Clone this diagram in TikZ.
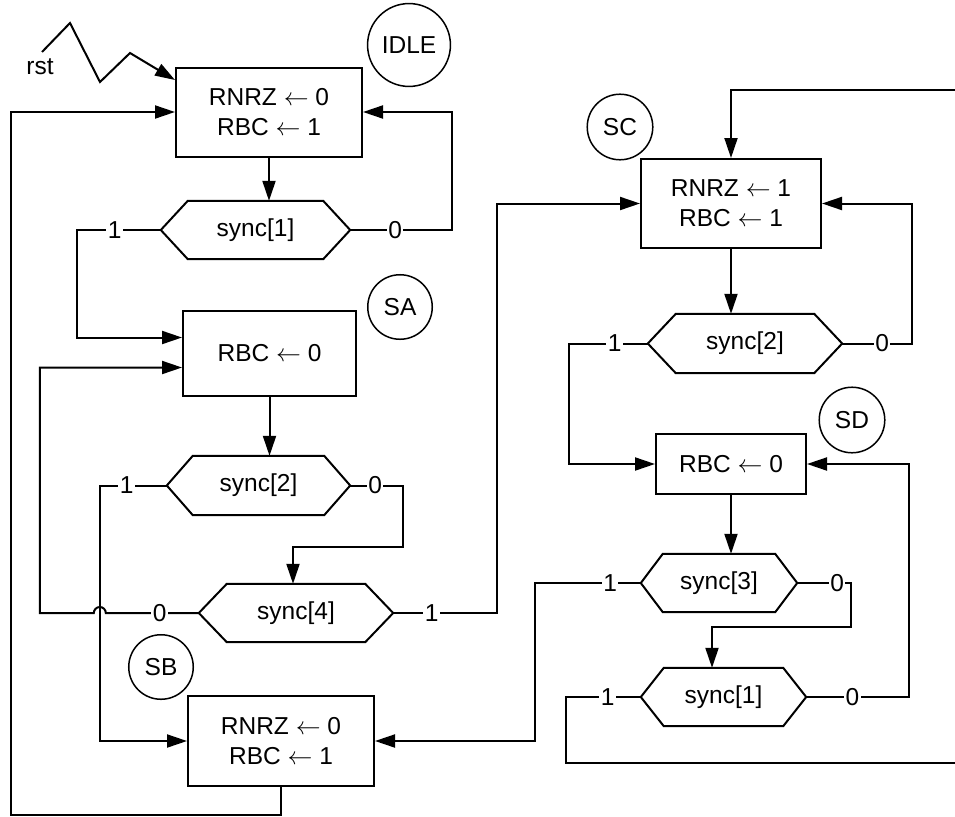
\documentclass[tikz,border=0pt]{standalone}
\usepackage{fontspec}
\setmainfont{Liberation Sans}
\usetikzlibrary{arrows.meta}

% hexagonal frame round a decision node: node name, chamfer inset
\newcommand{\hexframe}[2]{%
  \draw[wire] (#1.west) -- ([xshift=#2]#1.north west) -- ([xshift=-#2]#1.north east)
    -- (#1.east) -- ([xshift=-#2]#1.south east) -- ([xshift=#2]#1.south west) -- cycle;}

\begin{document}
\begin{tikzpicture}[x=1pt, y=-1pt,
    font=\fontsize{24.5}{30}\selectfont,
    wire/.style={line width=2pt},
    arr/.style={wire, -{Triangle[length=20pt, width=13pt]}},
    stbox/.style={draw, line width=2pt, align=center, inner sep=0pt},
    decide/.style={inner sep=0pt, minimum height=58pt},
    statename/.style={circle, draw, line width=1.5pt, minimum size=61pt, inner sep=10pt},
    lbl/.style={fill=white, inner sep=1.5pt}]
    \useasboundingbox (0,0) rectangle (955,816);

    % Left column: IDLE, SA, SB
    \node[stbox, minimum width=186pt, minimum height=89pt] (idle) at (269,112) {RNRZ $\leftarrow$ 0\\RBC $\leftarrow$ 1};
    \node[statename] (nidle) at (409,45) {IDLE};
    \node[decide, minimum width=189pt] (d1) at (255.5,230) {sync[1]};
    \hexframe{d1}{27}

    \node[stbox, minimum width=173pt, minimum height=85pt] (sa) at (269.5,353.5) {RBC $\leftarrow$ 0};
    \node[statename] (nsa) at (400,307) {SA};
    \node[decide, minimum width=183pt, minimum height=59pt] (d2) at (258.5,485.5) {sync[2]};
    \hexframe{d2}{26}
    \node[decide, minimum width=194pt] (d4) at (296,613) {sync[4]};
    \hexframe{d4}{28}

    \node[statename] (nsb) at (161,667) {SB};
    \node[stbox, minimum width=186pt, minimum height=90pt] (sb) at (281,741) {RNRZ $\leftarrow$ 0\\RBC $\leftarrow$ 1};

    % Right column: SC, SD
    \node[statename] (nsc) at (620,127) {SC};
    \node[stbox, minimum width=180pt, minimum height=89pt] (sc) at (731,203.5) {RNRZ $\leftarrow$ 1\\RBC $\leftarrow$ 1};
    \node[decide, minimum width=194pt, minimum height=59pt] (d5) at (745,343.5) {sync[2]};
    \hexframe{d5}{28}

    \node[statename] (nsd) at (852,420) {SD};
    \node[stbox, minimum width=150pt, minimum height=60pt] (sd) at (731,464) {RBC $\leftarrow$ 0};
    \node[decide, minimum width=156pt] (d3) at (719,583) {sync[3]};
    \hexframe{d3}{22}
    \node[decide, minimum width=165pt] (d6) at (723.5,697) {sync[1]};
    \hexframe{d6}{23}

    % Reset
    \node (rst) at (40,67) {rst};
    \coordinate (rstin) at (42,52);
    \draw[arr] (rstin) -- (70,23) -- (100,82) -- (130,53) -- ([yshift=-13.5pt]idle.north west);

    % IDLE transitions
    \draw[arr] (idle.south) -- (idle.south |- d1.north);
    \draw[arr] (d1.east) -- node[lbl, pos=.44] {0} ++(102,0) |- (idle.east);
    \draw[arr] (d1.west) -- node[lbl, pos=.55] {1} ++(-84,0) |- ([yshift=16pt]sa.west);

    % SA transitions
    \draw[arr] (sa.south) -- (sa.south |- d2.north);
    \draw[arr] (d2.east) -- node[lbl, pos=.47] {0} ++(53,0) |- ([xshift=-3pt, yshift=37pt]d4.north) -- ([xshift=-3pt]d4.north);
    \draw[arr] (d2.west) -- node[lbl, pos=.6] {1} ++(-67,0) |- (sb.west);
    \draw[arr] (d4.west) -- node[lbl, pos=.42] {0} ++(-93,0)
        arc[start angle=0, end angle=180, radius=6pt] -- ++(-54,0) |- ([yshift=-14pt]sa.west);
    \draw[arr] (d4.east) -- node[lbl, pos=.37] {1} ++(104,0) |- (sc.west);

    % SB back to IDLE
    \coordinate (loopL) at (11,815);
    \draw[arr] (sb.south) |- (loopL) |- (idle.west);

    % SC transitions
    \coordinate (edgeT) at (955,90);
    \draw[arr] (edgeT) -| (sc.north);
    \draw[arr] (sc.south) -- (sc.south |- d5.north);
    \draw[arr] (d5.east) -- node[lbl, pos=.57] {0} ++(70,0) |- (sc.east);
    \draw[arr] (d5.west) -- node[lbl, pos=.42] {1} ++(-79,0) |- (sd.west);

    % SD transitions
    \draw[arr] (sd.south) -- (sd.south |- d3.north);
    \draw[arr] (d3.east) -- node[lbl, pos=.74] {0} ++(54,0) |- ([xshift=-11.5pt, yshift=41pt]d6.north) -- ([xshift=-11.5pt]d6.north);
    \draw[arr] (d3.west) -- node[lbl, pos=.29] {1} ++(-106,0) |- (sb.east);
    \draw[arr] (d6.east) -- node[lbl, pos=.45] {0} ++(103,0) |- (sd.east);
    \coordinate (edgeB) at (955,763);
    \draw[wire] (d6.west) -- node[lbl, pos=.44] {1} ++(-75,0) |- (edgeB);
\end{tikzpicture}
\end{document}
